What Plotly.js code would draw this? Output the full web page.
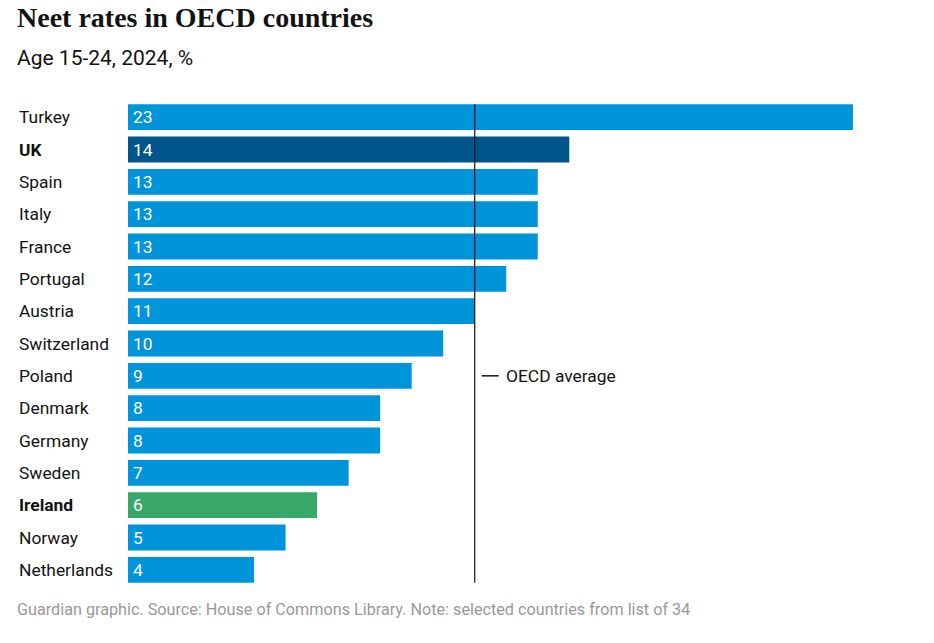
<!DOCTYPE html>
<html>
<head>
<meta charset="utf-8">
<script src="https://cdn.plot.ly/plotly-3.0.1.min.js"></script>
<style>
html,body{margin:0;padding:0;background:#fff;}
#wrap{position:relative;width:934px;height:643px;}
#edge{position:absolute;left:2px;top:0;width:2px;height:632px;background:#ececec;}
#chart{position:absolute;left:0;top:0;width:934px;height:643px;}
</style>
</head>
<body>
<div id="wrap"><div id="edge"></div><div id="chart"></div></div>
<script>
const countries = ["Turkey","UK","Spain","Italy","France","Portugal","Austria","Switzerland","Poland","Denmark","Germany","Sweden","Ireland","Norway","Netherlands"];
const values = [23,14,13,13,13,12,11,10,9,8,8,7,6,5,4];
const highlighted = ["UK","Ireland"];
const oecdAverage = 11;
const titleText = "Neet rates in OECD countries";
const subtitleText = "Age 15-24, 2024, %";
const footerText = "Guardian graphic. Source: House of Commons Library. Note: selected countries from list of 34";
const avgLabel = "OECD average";

const colorFor = c => c === "UK" ? "#00558a" : (c === "Ireland" ? "#3aa76a" : "#0094db");
const sansFont = "Roboto, 'Noto Sans', sans-serif";

const plotLeft = 128, plotWidth = 788;
const xmax = 25;

const annotations = [];
countries.forEach((c, i) => {
  const bold = highlighted.includes(c);
  annotations.push({
    xref: "paper", yref: "y", x: (17 - plotLeft) / plotWidth, y: c,
    xanchor: "left", yanchor: "middle", showarrow: false,
    text: bold ? "<b>" + c + "</b>" : c,
    font: {family: sansFont, size: 17.4, color: "#121212"}
  });
  annotations.push({
    xref: "x", yref: "y", x: 0, y: c, xshift: 3,
    xanchor: "left", yanchor: "middle", showarrow: false,
    text: String(values[i]),
    font: {family: sansFont, size: 17.4, color: "#ffffff"}
  });
});
annotations.push({
  xref: "x", yref: "y", x: oecdAverage, y: 8, xshift: 29,
  xanchor: "left", yanchor: "middle", showarrow: false,
  text: avgLabel, font: {family: sansFont, size: 17.4, color: "#121212"}
});
annotations.push({
  xref: "paper", yref: "paper", x: (15 - plotLeft) / plotWidth, y: 1, yshift: 66,
  xanchor: "left", yanchor: "bottom", showarrow: false,
  text: "<b>" + titleText + "</b>",
  font: {family: "'Liberation Serif', 'DejaVu Serif', serif", size: 28, color: "#121212"}
});
annotations.push({
  xref: "paper", yref: "paper", x: (15 - plotLeft) / plotWidth, y: 1, yshift: 29,
  xanchor: "left", yanchor: "bottom", showarrow: false,
  text: subtitleText,
  font: {family: sansFont, size: 21, color: "#121212"}
});
annotations.push({
  xref: "paper", yref: "paper", x: (15 - plotLeft) / plotWidth, y: 0, yshift: -12,
  xanchor: "left", yanchor: "top", showarrow: false,
  text: footerText,
  font: {family: sansFont, size: 16.2, color: "#999999"}
});

const shapes = [
  {type: "line", xref: "x", yref: "y", x0: oecdAverage, x1: oecdAverage, y0: -0.4, y1: countries.length - 1 + 0.4,
   line: {color: "#121212", width: 1.2}},
  {type: "line", xref: "x", yref: "y", y0: 8, y1: 8, xsizemode: "pixel",
   xanchor: oecdAverage, x0: 7, x1: 24, line: {color: "#121212", width: 1.5}}
];

const trace = {
  type: "bar", orientation: "h",
  x: values, y: countries,
  marker: {color: countries.map(colorFor)},
  hoverinfo: "none"
};

const layout = {
  width: 934, height: 643,
  margin: {l: plotLeft, r: 934 - plotLeft - plotWidth, t: 101, b: 57},
  paper_bgcolor: "#ffffff", plot_bgcolor: "#ffffff",
  bargap: 0.2,
  showlegend: false,
  xaxis: {range: [0, xmax], visible: false, fixedrange: true},
  yaxis: {type: "category", autorange: false, range: [countries.length - 0.5, -0.5], visible: false, fixedrange: true},
  annotations: annotations,
  shapes: shapes
};

Plotly.newPlot("chart", [trace], layout, {displayModeBar: false, staticPlot: true});
</script>
</body>
</html>
